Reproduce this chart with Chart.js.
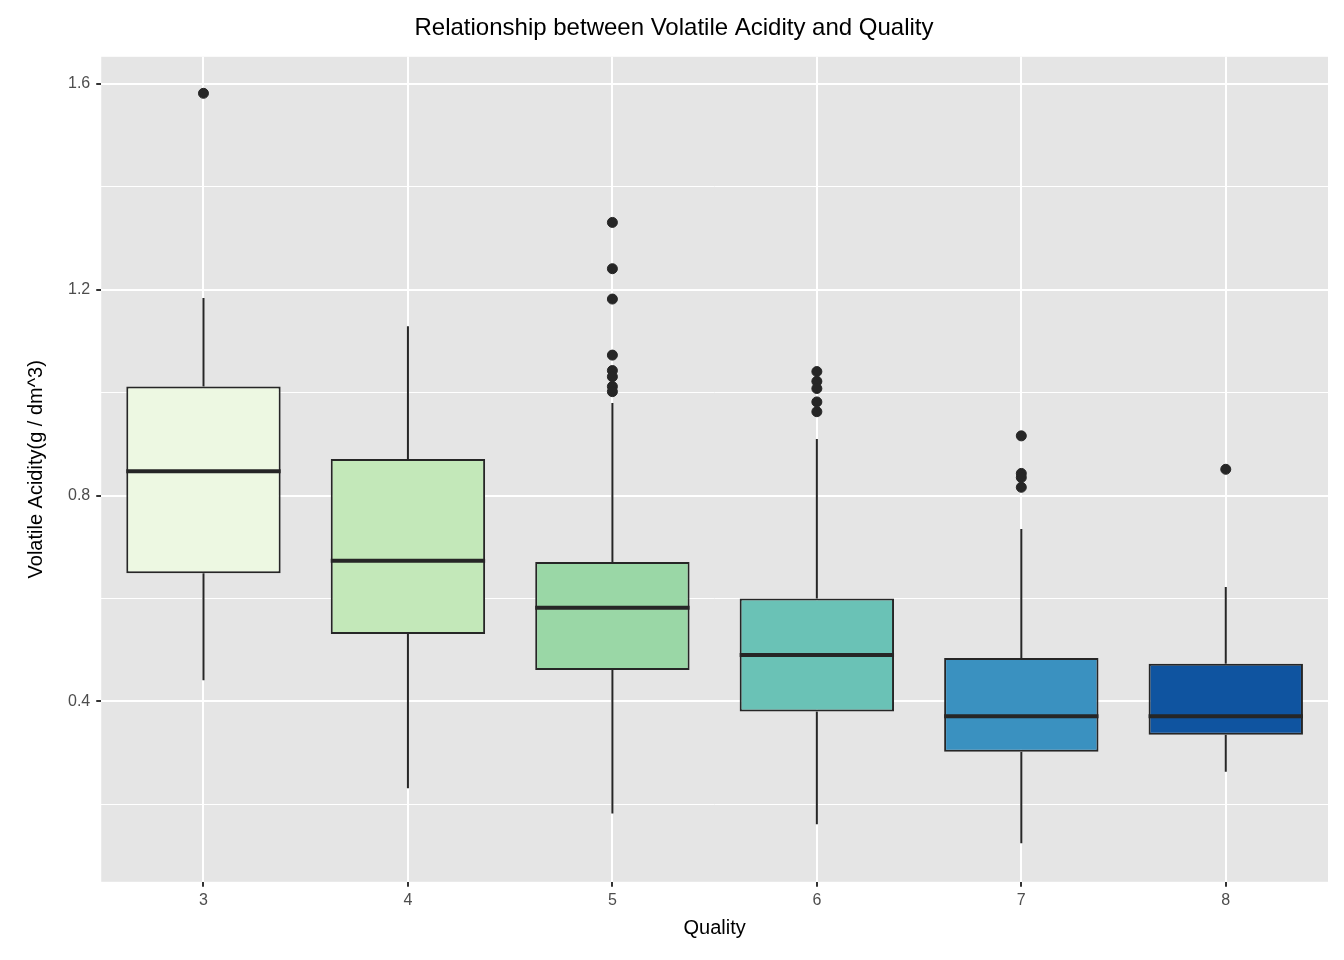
<!DOCTYPE html>
<html lang="en">
<head>
<meta charset="UTF-8">
<title>Volatile Acidity vs Quality</title>
<script src="https://cdn.jsdelivr.net/npm/chart.js@4.4.0/dist/chart.umd.min.js"></script>
<style>
  body{margin:0;background:#fff;}
  #board{width:1344px;height:960px;}
</style>
</head>
<body>
<div id="board"><canvas id="chart1" width="1344" height="960"></canvas></div>
<script>
const qualities = ['3','4','5','6','7','8'];
const q1 = [0.649, 0.531, 0.461, 0.380, 0.302, 0.335];
const medians = [0.847, 0.673, 0.582, 0.490, 0.371, 0.371];
const q3 = [1.012, 0.871, 0.671, 0.600, 0.484, 0.473];
const whiskerLow = [0.441, 0.231, 0.182, 0.161, 0.124, 0.263];
const whiskerHigh = [1.184, 1.129, 0.980, 0.910, 0.735, 0.622];
const outliers = [
  [1.582],
  [],
  [1.331, 1.241, 1.182, 1.073, 1.043, 1.031, 1.012, 1.002],
  [1.041, 1.022, 1.008, 0.982, 0.963],
  [0.916, 0.843, 0.835, 0.816],
  [0.851]
];
const fills = ['#EDF8E2', '#C3E8B9', '#9AD7A6', '#6AC2B6', '#3A91C0', '#0F54A0'];
const yTicks = [0.2, 0.4, 0.6, 0.8, 1.0, 1.2, 1.4, 1.6];

const outlierPts = [];
outliers.forEach((arr, i) => arr.forEach(v => outlierPts.push({x: qualities[i], y: v})));

// plot panel background, whiskers and median lines
const boxExtras = {
  id: 'boxExtras',
  beforeDraw(chart){
    const {ctx, chartArea:a} = chart;
    ctx.save();
    ctx.fillStyle = '#E5E5E5';
    ctx.fillRect(a.left, a.top, a.width, a.height);
    ctx.restore();
  },
  afterDatasetsDraw(chart){
    const ctx = chart.ctx, x = chart.scales.x, y = chart.scales.y;
    const bars = chart.getDatasetMeta(0).data;
    ctx.save();
    ctx.strokeStyle = '#262626';
    qualities.forEach((q, i) => {
      const cx = x.getPixelForValue(i);
      ctx.lineWidth = 2;
      ctx.beginPath();
      ctx.moveTo(cx, y.getPixelForValue(q3[i])); ctx.lineTo(cx, y.getPixelForValue(whiskerHigh[i]));
      ctx.moveTo(cx, y.getPixelForValue(q1[i])); ctx.lineTo(cx, y.getPixelForValue(whiskerLow[i]));
      ctx.stroke();
      const half = bars[i].width / 2;
      ctx.lineWidth = 4;
      ctx.beginPath();
      ctx.moveTo(cx - half, y.getPixelForValue(medians[i]));
      ctx.lineTo(cx + half, y.getPixelForValue(medians[i]));
      ctx.stroke();
    });
    ctx.restore();
  }
};

const ctx = document.getElementById('chart1').getContext('2d');
new Chart(ctx, {
  data: {
    labels: qualities,
    datasets: [{
      type: 'bar',
      data: q1.map((v, i) => [v, q3[i]]),
      backgroundColor: fills,
      borderColor: '#262626',
      borderWidth: 2,
      borderSkipped: false,
      barPercentage: 0.755,
      categoryPercentage: 1
    }, {
      type: 'scatter',
      data: outlierPts,
      backgroundColor: '#262626',
      borderColor: '#262626',
      pointRadius: 5,
      pointHoverRadius: 5
    }]
  },
  options: {
    responsive: false,
    animation: false,
    layout: {padding: {left: 20, right: 16, top: 6, bottom: 16}},
    plugins: {
      legend: {display: false},
      tooltip: {enabled: false},
      title: {
        display: true,
        text: 'Relationship between Volatile Acidity and Quality',
        color: '#000',
        font: {family: 'Liberation Sans', size: 24, weight: 'normal'},
        padding: {top: 8, bottom: 14}
      }
    },
    scales: {
      x: {
        type: 'category',
        offset: true,
        border: {display: false},
        grid: {color: '#FFFFFF', lineWidth: 2, offset: false, drawTicks: true, tickLength: 5, tickColor: '#333'},
        ticks: {color: '#4D4D4D', font: {family: 'Liberation Sans', size: 16}, padding: 4},
        title: {display: true, text: 'Quality', color: '#000', font: {family: 'Liberation Sans', size: 20}, padding: {top: 2}}
      },
      y: {
        min: 0.049,
        max: 1.653,
        border: {display: false},
        afterBuildTicks(axis){ axis.ticks = yTicks.map(v => ({value: v})); },
        grid: {
          color: '#FFFFFF',
          lineWidth: c => (Math.round(c.tick.value * 10) % 4 === 0 ? 2 : 1),
          tickLength: 5,
          tickColor: c => (Math.round(c.tick.value * 10) % 4 === 0 ? '#333' : 'rgba(0,0,0,0)')
        },
        ticks: {
          color: '#4D4D4D',
          font: {family: 'Liberation Sans', size: 16},
          padding: 6,
          callback: v => (Math.round(v * 10) % 4 === 0 ? v.toFixed(1) : '')
        },
        title: {display: true, text: 'Volatile Acidity(g / dm^3)', color: '#000', font: {family: 'Liberation Sans', size: 20}, padding: {bottom: 14}}
      }
    }
  },
  plugins: [boxExtras]
});
</script>
</body>
</html>
